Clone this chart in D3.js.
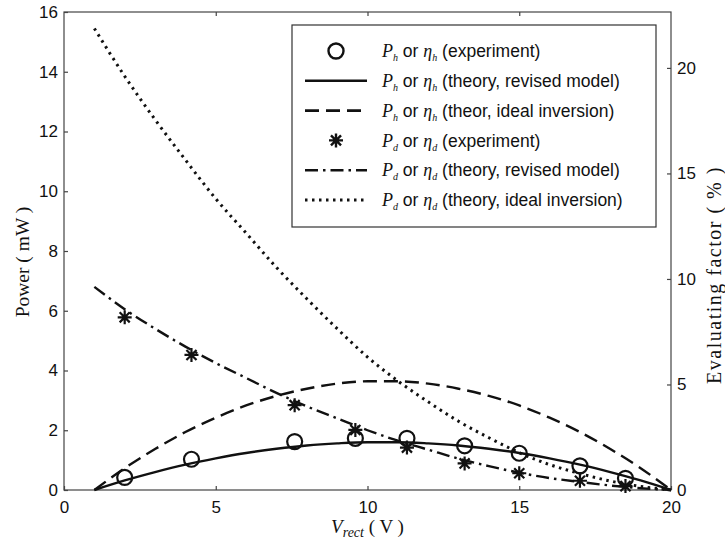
<!DOCTYPE html>
<html>
<head>
<meta charset="utf-8">
<script src="https://cdn.jsdelivr.net/npm/d3@7"></script>
<style>
  body { margin: 0; background: #fff; }
</style>
</head>
<body>
<div id="chart"></div>
<script>
// measured points (V_rect in volts)
const expV = [2, 4.2, 7.6, 9.6, 11.3, 13.2, 15, 17, 18.5];
const phExp = [0.42, 1.03, 1.62, 1.73, 1.73, 1.48, 1.23, 0.81, 0.39];
const pdExp = [5.78, 4.52, 2.84, 2.01, 1.42, 0.89, 0.56, 0.31, 0.13];

// theory curves at each volt
const theoryV = [1, 2, 3, 4, 5, 6, 7, 8, 9, 10, 11, 12, 13, 14, 15, 16, 17, 18, 19, 20];
const phRevised = [0, 0.32, 0.60, 0.85, 1.06, 1.24, 1.38, 1.49, 1.56, 1.60, 1.60, 1.56, 1.49, 1.38, 1.24, 1.06, 0.85, 0.60, 0.32, 0];
const phIdeal = [0, 0.73, 1.37, 1.94, 2.42, 2.83, 3.15, 3.39, 3.56, 3.64, 3.64, 3.56, 3.39, 3.15, 2.83, 2.42, 1.94, 1.37, 0.73, 0];
const pdRevised = [6.8, 6.05, 5.4, 4.8, 4.25, 3.75, 3.25, 2.8, 2.4, 2.0, 1.65, 1.35, 1.05, 0.8, 0.58, 0.4, 0.27, 0.15, 0.06, 0];
const pdIdeal = [15.45, 13.85, 12.4, 11.05, 9.75, 8.6, 7.45, 6.4, 5.4, 4.45, 3.65, 2.95, 2.3, 1.75, 1.25, 0.85, 0.55, 0.3, 0.12, 0];

const xTicks = [0, 5, 10, 15, 20];
const topTicks = [5, 10, 15];
const leftTicks = [0, 2, 4, 6, 8, 10, 12, 14, 16];
const rightTicks = [0, 5, 10, 15, 20];

const legendRows = [
  { sub: "h", label: " (experiment)", kind: "circle" },
  { sub: "h", label: " (theory, revised model)", kind: "solid" },
  { sub: "h", label: " (theor, ideal inversion)", kind: "dashed" },
  { sub: "d", label: " (experiment)", kind: "star" },
  { sub: "d", label: " (theory, revised model)", kind: "dashdot" },
  { sub: "d", label: " (theory, ideal inversion)", kind: "dotted" }
];

const width = 725;
const height = 546;
const margin = { top: 12, right: 54, bottom: 56, left: 64 };
const sans = "'Liberation Sans', Arial, sans-serif";
const serif = "'Liberation Serif', 'Times New Roman', serif";
const ink = "#111";

const svg = d3.select("#chart")
  .append("svg")
  .attr("width", width)
  .attr("height", height);

const x = d3.scaleLinear()
  .domain([0, 20])
  .range([margin.left, width - margin.right]);

const y = d3.scaleLinear()
  .domain([0, 16])
  .range([height - margin.bottom, margin.top]);

const yRight = d3.scaleLinear()
  .domain([0, 22.65])
  .range([height - margin.bottom, margin.top]);

const styles = {
  solid: null,
  dashed: "14,7",
  dashdot: "13,5,2.5,5",
  dotted: "2.5,4.5"
};

// frame
svg.append("rect")
  .attr("x", margin.left)
  .attr("y", margin.top)
  .attr("width", width - margin.left - margin.right)
  .attr("height", height - margin.top - margin.bottom)
  .attr("fill", "none")
  .attr("stroke", "#444")
  .attr("stroke-width", 1.2);

function styleAxis(g) {
  g.select(".domain").remove();
  g.selectAll(".tick line").attr("stroke", "#444").attr("stroke-width", 1.2);
  g.selectAll("text")
    .attr("fill", ink)
    .style("font-family", sans)
    .style("font-size", "17px");
}

svg.append("g")
  .attr("transform", `translate(0, ${height - margin.bottom})`)
  .call(d3.axisBottom(x).tickValues(xTicks).tickSizeInner(-4).tickSizeOuter(0).tickPadding(11))
  .call(styleAxis);

svg.append("g")
  .attr("transform", `translate(0, ${margin.top})`)
  .call(d3.axisTop(x).tickValues(topTicks).tickSizeInner(-4).tickSizeOuter(0).tickFormat(""))
  .call(styleAxis);

svg.append("g")
  .attr("transform", `translate(${margin.left}, 0)`)
  .call(d3.axisLeft(y).tickValues(leftTicks).tickSizeInner(-4).tickSizeOuter(0).tickPadding(6))
  .call(styleAxis);

svg.append("g")
  .attr("transform", `translate(${width - margin.right}, 0)`)
  .call(d3.axisRight(yRight).tickValues(rightTicks).tickSizeInner(-4).tickSizeOuter(0).tickPadding(6))
  .call(styleAxis);

// axis titles
svg.append("text")
  .attr("transform", "translate(22, 262) rotate(-90)")
  .attr("text-anchor", "middle")
  .attr("dy", "0.35em")
  .style("font-family", serif)
  .style("font-size", "19.5px")
  .attr("fill", ink)
  .text("Power ( mW )");

svg.append("text")
  .attr("transform", "translate(714, 275) rotate(-90)")
  .attr("text-anchor", "middle")
  .attr("dy", "0.35em")
  .style("font-family", serif)
  .style("font-size", "20px")
  .style("letter-spacing", "1.5px")
  .attr("fill", ink)
  .text("Evaluating factor ( % )");

const xTitle = svg.append("text")
  .attr("x", x(10))
  .attr("y", 533)
  .attr("text-anchor", "middle")
  .style("font-family", serif)
  .style("font-size", "19px")
  .attr("fill", ink);
xTitle.append("tspan").style("font-style", "italic").text("V");
xTitle.append("tspan").style("font-style", "italic").style("font-size", "14px").attr("dy", 4).text("rect");
xTitle.append("tspan").attr("dy", -4).text(" ( V )");

// theory curves
const line = d3.line()
  .x((d, i) => x(theoryV[i]))
  .y(d => y(d))
  .curve(d3.curveMonotoneX);

const curves = [
  { values: phRevised, kind: "solid" },
  { values: phIdeal, kind: "dashed" },
  { values: pdRevised, kind: "dashdot" },
  { values: pdIdeal, kind: "dotted" }
];

svg.append("g")
  .selectAll("path")
  .data(curves)
  .join("path")
  .attr("d", d => line(d.values))
  .attr("fill", "none")
  .attr("stroke", ink)
  .attr("stroke-width", d => d.kind === "dotted" ? 3 : 2.4)
  .attr("stroke-dasharray", d => styles[d.kind]);

// asterisk marker like matlab '*'
const asterisk = {
  draw(context, size) {
    const r = Math.sqrt(size) / 2;
    const q = r * 0.72;
    context.moveTo(-r, 0); context.lineTo(r, 0);
    context.moveTo(0, -r); context.lineTo(0, r);
    context.moveTo(-q, -q); context.lineTo(q, q);
    context.moveTo(-q, q); context.lineTo(q, -q);
  }
};
const starPath = d3.symbol().type(asterisk).size(14 * 14)();

svg.append("g")
  .selectAll("path")
  .data(pdExp)
  .join("path")
  .attr("transform", (d, i) => `translate(${x(expV[i])}, ${y(d)})`)
  .attr("d", starPath)
  .attr("fill", "none")
  .attr("stroke", ink)
  .attr("stroke-width", 2.2);

svg.append("g")
  .selectAll("circle")
  .data(phExp)
  .join("circle")
  .attr("cx", (d, i) => x(expV[i]))
  .attr("cy", d => y(d))
  .attr("r", 7.5)
  .attr("fill", "none")
  .attr("stroke", ink)
  .attr("stroke-width", 2.2);

// legend
const legend = svg.append("g");
legend.append("rect")
  .attr("x", 292)
  .attr("y", 25)
  .attr("width", 364)
  .attr("height", 202)
  .attr("fill", "#fff")
  .attr("stroke", "#333")
  .attr("stroke-width", 1.2);

const rowY = d3.scalePoint()
  .domain(d3.range(legendRows.length))
  .range([51, 200]);

const rows = legend.selectAll("g.row")
  .data(legendRows)
  .join("g")
  .attr("class", "row")
  .attr("transform", (d, i) => `translate(0, ${rowY(i)})`);

rows.filter(d => d.kind === "circle")
  .append("circle")
  .attr("cx", 336)
  .attr("r", 7.5)
  .attr("fill", "none")
  .attr("stroke", ink)
  .attr("stroke-width", 2.4);

rows.filter(d => d.kind === "star")
  .append("path")
  .attr("transform", "translate(336, 0)")
  .attr("d", starPath)
  .attr("fill", "none")
  .attr("stroke", ink)
  .attr("stroke-width", 2.4);

rows.filter(d => d.kind in styles)
  .append("line")
  .attr("x1", 305)
  .attr("x2", 367)
  .attr("stroke", ink)
  .attr("stroke-width", d => d.kind === "dotted" ? 3 : 2.6)
  .attr("stroke-dasharray", d => styles[d.kind]);

const labels = rows.append("text")
  .attr("x", 382)
  .attr("dy", "0.35em")
  .style("font-family", sans)
  .style("font-size", "17.5px")
  .attr("fill", ink);

labels.append("tspan").style("font-family", serif).style("font-style", "italic").style("font-size", "18px").text("P");
labels.append("tspan").style("font-family", serif).style("font-style", "italic").style("font-size", "10px").attr("dy", 4).text(d => d.sub);
labels.append("tspan").attr("dy", -4).text(" or ");
labels.append("tspan").style("font-family", serif).style("font-style", "italic").style("font-size", "18px").text("η");
labels.append("tspan").style("font-family", serif).style("font-style", "italic").style("font-size", "10px").attr("dy", 4).text(d => d.sub);
labels.append("tspan").attr("dy", -4).text(d => d.label);
</script>
</body>
</html>
